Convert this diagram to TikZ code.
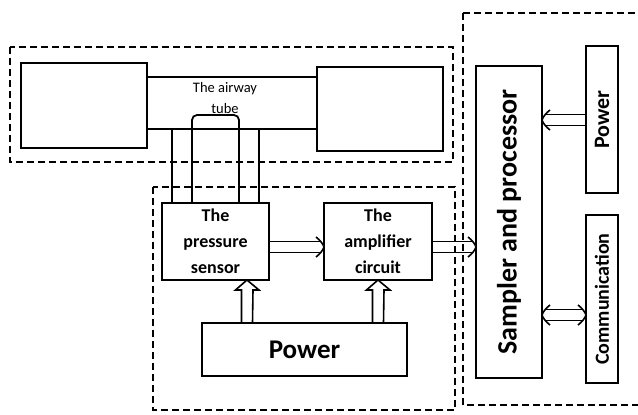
\documentclass[tikz,border=0pt]{standalone}
\usepackage{fontspec}
\setmainfont{Carlito}
\usetikzlibrary{calc}
\tikzset{
  box/.style={draw, line width=1.8pt, inner sep=0pt, outer sep=0pt, align=center},
  dashbox/.style={draw, line width=1.8pt, dash pattern=on 7pt off 4pt},
  arr/.style={line width=1.6pt, line cap=butt},
  uparrow/.style={line width=1.6pt, line join=miter},
  tubeline/.style={line width=1.8pt},
  lbl/.style={font=\fontsize{18}{26}\selectfont\bfseries},
}
\newcommand{\rbox}[7]{% name, x1,y1,x2,y2, style, text
  \node[box, #6, minimum width=#4-#2, minimum height=#5-#3] (#1) at ({(#2+#4)/2},{(#3+#5)/2}) {#7};}
% shaft of a hollow horizontal arrow from #1 to #2, direction #3 (1 = right, -1 = left)
\newcommand{\hshaft}[3]{%
  \draw[arr] ($(#1)+(0,-5.5)$) -- ($(#2)+(-4*#3,-5.5)$);
  \draw[arr] ($(#1)+(0,5.5)$) -- ($(#2)+(-4*#3,5.5)$);}
% head of a hollow horizontal arrow at #1, direction #2
\newcommand{\hhead}[2]{%
  \draw[arr, line join=round] ($(#1)+(-8*#2,-10)$) .. controls ($(#1)+(-4*#2,-7)$) and ($(#1)+(-1*#2,-3)$) .. (#1)
     .. controls ($(#1)+(-1*#2,3)$) and ($(#1)+(-4*#2,7)$) .. ($(#1)+(-8*#2,10)$);}
\begin{document}
\begin{tikzpicture}[x=1pt,y=-1pt]
\useasboundingbox (0,0) rectangle (638,415);
% blocks of the airway
\rbox{leftbox}{21}{63}{147}{148}{}{}
\rbox{rightbox}{317}{67}{443}{151}{}{}
\draw[tubeline] (leftbox.east |- 0,77) -- (rightbox.west |- 0,77);
\draw[tubeline] (leftbox.east |- 0,129) -- (rightbox.west |- 0,129);
\node[font=\fontsize{14.5}{21}\selectfont, align=center, inner sep=0pt] (tubetext) at (225,98) {The airway\\tube};
% sensor and amplifier
\rbox{sensor}{162}{203}{269}{280}{lbl}{The\\pressure\\sensor}
\rbox{amp}{324}{203}{432}{280}{lbl}{The\\amplifier\\circuit}
\rbox{power}{202}{323}{407}{376}{font=\fontsize{27}{30}\selectfont\bfseries}{Power}
% right
\rbox{sampler}{476}{66}{542}{378}{}{}
\node[rotate=90, font=\fontsize{28}{32}\selectfont\bfseries, inner sep=0pt] (samptext) at (sampler.center) {Sampler and processor};
\rbox{rpower}{586}{46}{618}{193}{}{}
\node[rotate=90, font=\fontsize{22}{24}\selectfont\bfseries, inner sep=0pt] (rpowertext) at (rpower.center) {Power};
\rbox{comm}{586}{215}{618}{383}{}{}
\node[rotate=90, font=\fontsize{20}{24}\selectfont\bfseries, inner sep=0pt] (commtext) at (comm.center) {Communication};
% tubes from airway to sensor
\draw[tubeline] (172,129) -- (sensor.north -| 172,0);
\draw[tubeline] (259,129) -- (sensor.north -| 259,0);
\draw[tubeline, rounded corners=5pt] (sensor.north -| 192,0) -- (192,115) -- (239,115) -- (sensor.north -| 239,0);
% arrow end points
\coordinate (s1) at (sensor.east |- 0,247);
\coordinate (a1) at (amp.west |- 0,247);
\coordinate (a2) at (amp.east |- 0,247);
\coordinate (p1) at (sampler.west |- 0,247);
\coordinate (rp) at (rpower.west |- 0,120);
\coordinate (p2) at (sampler.east |- 0,120);
\coordinate (p3) at (sampler.east |- 0,315);
\coordinate (c1) at (comm.west |- 0,315);
% horizontal hollow arrows
\hshaft{s1}{a1}{1}\hhead{a1}{1}
\hshaft{a2}{p1}{1}\hhead{p1}{1}
\hshaft{rp}{p2}{-1}\hhead{p2}{-1}
\draw[arr] ($(p3)+(4,-5.5)$) -- ($(c1)+(-4,-5.5)$);
\draw[arr] ($(p3)+(4,5.5)$) -- ($(c1)+(-4,5.5)$);
\hhead{p3}{-1}\hhead{c1}{1}
% vertical hollow arrows from the power block
\foreach \nm/\xx in {sensor/247, amp/378}{
  \draw[uparrow] (power.north -| \xx-5.5,0) -- ++(0,-33) -- ++(-6,0) -- (\nm.south -| \xx,0) -- ($(\nm.south -| \xx,0)+(12,10)$) -- ++(-6,0) -- (power.north -| \xx+5.5,0);
}
% dashed groups
\draw[dashbox] (10,47) rectangle (453,162);
\draw[dashbox] (153,187) rectangle (455,410);
\draw[dashbox] (463,13) -- (650,13);
\draw[dashbox] (463,13) -- (463,405) -- (650,405);
\end{tikzpicture}
\end{document}
